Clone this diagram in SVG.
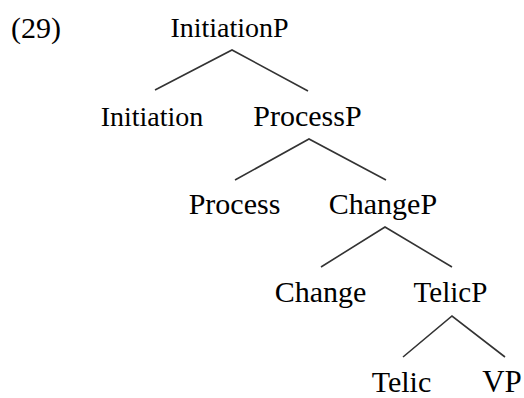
<svg xmlns="http://www.w3.org/2000/svg" width="524" height="398" viewBox="0 0 524 398">
<style>
.e{stroke:#333;stroke-width:1.6;fill:none}
</style>
<rect width="524" height="398" fill="#fff"/>
<text x="11" y="38" font-family="Liberation Serif" font-size="30">(29)</text>
<g id="connectors">
<polyline class="e" points="155,90 232,50 308,91"/>
<polyline class="e" points="235,180 309,139 386,180"/>
<polyline class="e" points="321,267 385,227 452,267"/>
<polyline class="e" points="403,357 452,316 505,357"/>
</g>
<g id="InitiationP"><text x="170.4" y="37" font-family="Liberation Serif" font-size="28">InitiationP</text></g>
<g id="Initiation"><text x="100.7" y="126" font-family="Liberation Serif" font-size="28">Initiation</text></g>
<g id="ProcessP"><text x="253.3" y="126" font-family="Liberation Serif" font-size="30">ProcessP</text></g>
<g id="Process"><text x="188.7" y="214" font-family="Liberation Serif" font-size="30">Process</text></g>
<g id="ChangeP"><text x="328.8" y="214" font-family="Liberation Serif" font-size="30">ChangeP</text></g>
<g id="Change"><text x="274.7" y="302" font-family="Liberation Serif" font-size="30">Change</text></g>
<g id="TelicP"><text x="413.6" y="302" font-family="Liberation Serif" font-size="29">TelicP</text></g>
<g id="Telic"><text x="371.7" y="392" font-family="Liberation Serif" font-size="30">Telic</text></g>
<g id="VP"><text x="482.2" y="392" font-family="Liberation Serif" font-size="31">VP</text></g>
</svg>
